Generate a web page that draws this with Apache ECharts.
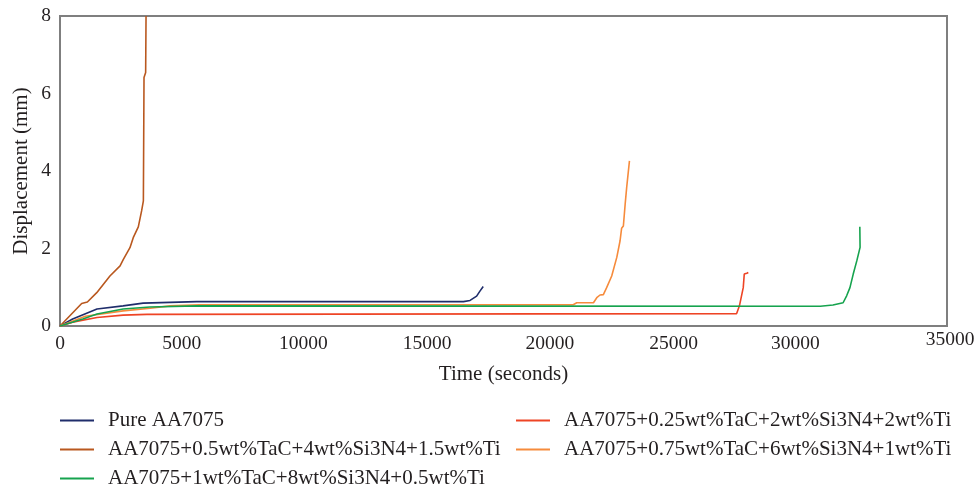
<!DOCTYPE html>
<html>
<head>
<meta charset="utf-8">
<script src="https://cdn.jsdelivr.net/npm/echarts@6/dist/echarts.min.js"></script>
<style>
  html, body { margin: 0; padding: 0; background: #fff; }
  #chart { width: 975px; height: 489px; }
</style>
</head>
<body>
<div id="chart"></div>
<script>
// [time (s), displacement (mm)]
var pureData = [
    [0, 0], [500, 0.18], [1460, 0.44], [2490, 0.52], [3280, 0.59], [5400, 0.63],
    [15920, 0.63], [16180, 0.66], [16440, 0.77], [16570, 0.90], [16700, 1.02]
];
var ta025Data = [
    [0, 0], [500, 0.1], [1460, 0.22], [2490, 0.28], [3430, 0.30], [3500, 0.33],
    [26700, 0.32], [26810, 0.52], [26960, 0.99], [27000, 1.34], [27100, 1.36], [27160, 1.38]
];
var ta05Data = [
    [0, 0], [855, 0.58], [1080, 0.62], [1450, 0.86], [1970, 1.29], [2370, 1.55],
    [2500, 1.72], [2760, 2.02], [2890, 2.28], [3090, 2.56], [3220, 2.97], [3290, 3.23],
    [3315, 6.41], [3380, 6.54], [3395, 8.0]
];
var ta075Data = [
    [0, 0], [1000, 0.25], [2490, 0.39], [3560, 0.46], [4340, 0.52], [5500, 0.55],
    [20250, 0.55], [20390, 0.60], [21050, 0.60], [21180, 0.73], [21310, 0.80], [21440, 0.81],
    [21570, 0.99], [21770, 1.29], [21970, 1.77], [22100, 2.20], [22160, 2.52], [22230, 2.58],
    [22300, 3.14], [22360, 3.57], [22470, 4.26]
];
var ta1Data = [
    [0, 0], [900, 0.18], [1460, 0.31], [2490, 0.44], [3550, 0.49], [5400, 0.52],
    [30000, 0.51], [30500, 0.54], [30900, 0.60], [31040, 0.78], [31170, 0.99],
    [31300, 1.34], [31440, 1.68], [31570, 2.03], [31560, 2.56]
];

var seriesNames = [
    'Pure AA7075',
    'AA7075+0.25wt%TaC+2wt%Si3N4+2wt%Ti',
    'AA7075+0.5wt%TaC+4wt%Si3N4+1.5wt%Ti',
    'AA7075+0.75wt%TaC+6wt%Si3N4+1wt%Ti',
    'AA7075+1wt%TaC+8wt%Si3N4+0.5wt%Ti'
];
var seriesColors = ['#1f2d6b', '#ee4425', '#b9581f', '#f68b3c', '#16a34e'];
var seriesData = [pureData, ta025Data, ta05Data, ta075Data, ta1Data];

var xTicks = { min: 0, max: 35000, interval: 5000 };
var yTicks = { min: 0, max: 8, interval: 2 };

var font = '"Liberation Serif", "DejaVu Serif", serif';
var textColor = '#231f20';
var axisGray = '#7f7f7f';
var tickSize = 19.5;

// the source figure's x labels drift left of their ticks; shift them the same way
var labelShift = { 5000: 5, 10000: 10, 15000: 13, 20000: 17, 25000: 20, 30000: 25 };
var xRich = {
    last: { fontFamily: font, fontSize: tickSize, color: textColor, lineHeight: 12, padding: [0, 0, 0, 6] }
};
Object.keys(labelShift).forEach(function (k) {
    xRich['s' + k] = {
        fontFamily: font, fontSize: tickSize, color: textColor,
        padding: [0, labelShift[k] * 2, 0, 0]
    };
});

var series = seriesNames.map(function (name, i) {
    return {
        name: name,
        type: 'line',
        data: seriesData[i],
        showSymbol: false,
        symbol: 'none',
        lineStyle: { width: 1.6, color: seriesColors[i] },
        itemStyle: { color: seriesColors[i] },
        animation: false
    };
});

// legend: two columns, three rows; one component per entry so nothing wraps
var legendSlots = [
    { name: seriesNames[0], left: 60, top: 410 },
    { name: seriesNames[2], left: 60, top: 439 },
    { name: seriesNames[4], left: 60, top: 468 },
    { name: seriesNames[1], left: 516, top: 410 },
    { name: seriesNames[3], left: 516, top: 439 }
];
var legends = legendSlots.map(function (s) {
    return {
        left: s.left,
        top: s.top,
        padding: 0,
        data: [s.name],
        icon: 'rect',
        itemWidth: 34,
        itemHeight: 2,
        selectedMode: false,
        textStyle: {
            fontFamily: font,
            fontSize: 21,
            color: textColor,
            padding: [0, 0, 0, 9]
        }
    };
});

var option = {
    animation: false,
    textStyle: { fontFamily: font },
    grid: {
        left: 60, right: 28, top: 16, bottom: 163,
        outerBoundsMode: 'none',
        show: true, borderColor: axisGray, borderWidth: 2
    },
    legend: legends,
    xAxis: {
        type: 'value',
        min: xTicks.min, max: xTicks.max, interval: xTicks.interval,
        name: 'Time (seconds)',
        nameLocation: 'middle',
        nameGap: 38,
        nameTextStyle: { fontFamily: font, fontSize: 21, color: textColor },
        axisLine: { show: true, lineStyle: { color: axisGray, width: 2 } },
        axisTick: { show: false },
        splitLine: { show: false },
        axisLabel: {
            fontFamily: font, fontSize: tickSize, color: textColor, margin: 8,
            formatter: function (v) {
                if (v === xTicks.max) return '{last|' + v + '}';
                if (labelShift[v]) return '{s' + v + '|' + v + '}';
                return String(v);
            },
            rich: xRich
        }
    },
    yAxis: {
        type: 'value',
        min: yTicks.min, max: yTicks.max, interval: yTicks.interval,
        name: 'Displacement (mm)',
        nameLocation: 'middle',
        nameGap: 28,
        nameMoveOverlap: false,
        nameTextStyle: { fontFamily: font, fontSize: 21, color: textColor },
        axisLine: { show: true, lineStyle: { color: axisGray, width: 2 } },
        axisTick: { show: false },
        splitLine: { show: false },
        axisLabel: { fontFamily: font, fontSize: tickSize, color: textColor, margin: 9 }
    },
    series: series
};

var chart = echarts.init(document.getElementById('chart'), null, { renderer: 'canvas' });
chart.setOption(option);
</script>
</body>
</html>
